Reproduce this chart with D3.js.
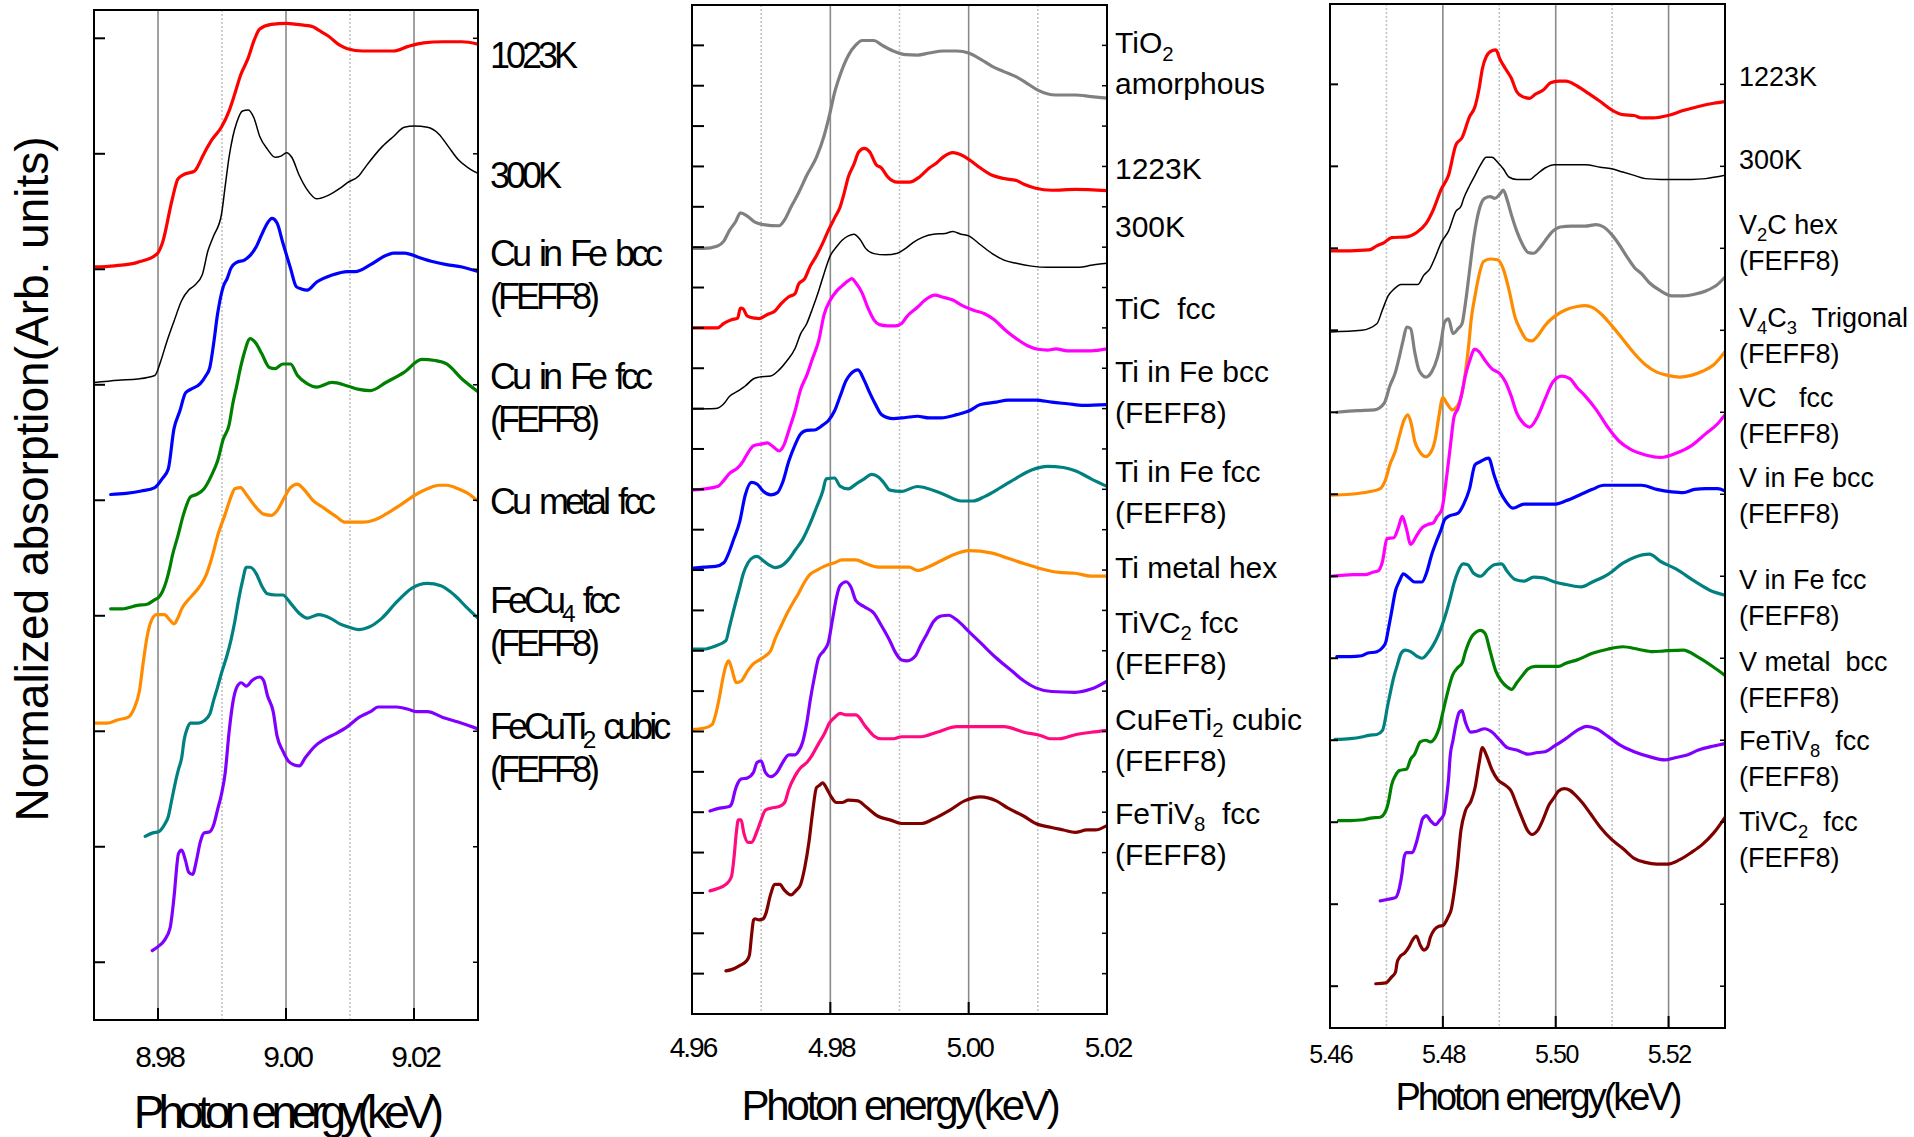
<!DOCTYPE html>
<html>
<head>
<meta charset="utf-8">
<script src="https://cdn.jsdelivr.net/npm/d3@7"></script>
<style>
  body { margin: 0; background: #fff; }
  text { font-family: "Liberation Sans", Arial, sans-serif; fill: #000; white-space: pre; }
</style>
</head>
<body>
<svg id="chart" width="1914" height="1137"></svg>
<script>
// ---- Cu K-edge (keV, arb. units) ----
const cuRange = [8.97, 9.03]
const cuMajor = [8.98, 9.00, 9.02]
const cuMinor = [8.99, 9.01]
const cu1023K = [[8.9700,6.02],[8.9732,6.03],[8.9768,6.06],[8.9798,6.13],[8.9807,6.23],[8.9822,6.60],[8.9831,6.78],[8.9840,6.82],[8.9857,6.85],[8.9863,6.90],[8.9869,6.97],[8.9884,7.12],[8.9899,7.23],[8.9911,7.37],[8.9920,7.52],[8.9929,7.68],[8.9941,7.83],[8.9950,7.98],[8.9959,8.08],[8.9977,8.12],[9.0001,8.13],[9.0018,8.12],[9.0042,8.10],[9.0051,8.07],[9.0066,8.02],[9.0084,7.94],[9.0096,7.91],[9.0120,7.89],[9.0138,7.89],[9.0168,7.89],[9.0191,7.93],[9.0215,7.96],[9.0245,7.97],[9.0275,7.97],[9.0300,7.95]]
const cu300K = [[8.9700,5.02],[8.9738,5.04],[8.9768,5.05],[8.9795,5.08],[8.9804,5.20],[8.9813,5.36],[8.9825,5.55],[8.9837,5.73],[8.9848,5.82],[8.9857,5.86],[8.9869,5.95],[8.9878,6.16],[8.9887,6.29],[8.9899,6.47],[8.9905,6.72],[8.9911,6.97],[8.9917,7.15],[8.9923,7.27],[8.9932,7.37],[8.9941,7.38],[8.9950,7.31],[8.9959,7.15],[8.9971,7.04],[8.9983,6.97],[8.9992,6.98],[9.0001,7.01],[9.0009,6.97],[9.0021,6.81],[9.0033,6.69],[9.0048,6.61],[9.0066,6.64],[9.0084,6.70],[9.0096,6.75],[9.0114,6.81],[9.0126,6.90],[9.0150,7.06],[9.0168,7.15],[9.0185,7.23],[9.0200,7.24],[9.0221,7.23],[9.0239,7.17],[9.0254,7.06],[9.0269,6.95],[9.0287,6.87],[9.0300,6.83]]
const cuInFeBcc = [[8.9726,4.05],[8.9750,4.06],[8.9774,4.08],[8.9795,4.11],[8.9807,4.19],[8.9816,4.27],[8.9825,4.62],[8.9834,4.77],[8.9843,4.93],[8.9851,4.96],[8.9866,5.01],[8.9875,5.08],[8.9881,5.15],[8.9887,5.36],[8.9893,5.61],[8.9902,5.85],[8.9908,5.92],[8.9914,6.01],[8.9923,6.06],[8.9935,6.08],[8.9944,6.12],[8.9953,6.19],[8.9962,6.30],[8.9971,6.40],[8.9978,6.44],[8.9986,6.40],[8.9995,6.23],[9.0007,6.01],[9.0016,5.85],[9.0024,5.83],[9.0033,5.82],[9.0048,5.89],[9.0072,5.95],[9.0096,5.98],[9.0108,5.98],[9.0132,6.04],[9.0156,6.12],[9.0168,6.14],[9.0185,6.14],[9.0209,6.10],[9.0227,6.07],[9.0251,6.04],[9.0275,6.02],[9.0300,5.98]]
const cuInFeFcc = [[8.9726,3.06],[8.9744,3.06],[8.9768,3.09],[8.9783,3.10],[8.9795,3.14],[8.9801,3.16],[8.9807,3.21],[8.9813,3.30],[8.9819,3.43],[8.9822,3.51],[8.9831,3.69],[8.9840,3.88],[8.9851,4.03],[8.9860,4.05],[8.9872,4.10],[8.9884,4.22],[8.9893,4.34],[8.9902,4.53],[8.9911,4.65],[8.9917,4.84],[8.9923,4.99],[8.9929,5.15],[8.9935,5.28],[8.9944,5.40],[8.9953,5.36],[8.9962,5.27],[8.9974,5.15],[8.9983,5.14],[8.9995,5.18],[9.0007,5.18],[9.0018,5.08],[9.0033,5.01],[9.0048,4.98],[9.0072,5.02],[9.0096,4.99],[9.0114,4.96],[9.0132,4.95],[9.0156,5.02],[9.0185,5.11],[9.0212,5.22],[9.0233,5.21],[9.0251,5.18],[9.0275,5.05],[9.0300,4.94]]
const cuMetalFcc = [[8.9700,2.07],[8.9720,2.07],[8.9738,2.10],[8.9753,2.12],[8.9762,2.19],[8.9771,2.35],[8.9777,2.60],[8.9783,2.82],[8.9789,2.95],[8.9798,3.01],[8.9810,3.01],[8.9819,2.96],[8.9825,2.93],[8.9831,2.98],[8.9837,3.06],[8.9846,3.13],[8.9854,3.18],[8.9866,3.26],[8.9875,3.35],[8.9884,3.50],[8.9893,3.69],[8.9905,3.88],[8.9914,4.03],[8.9920,4.10],[8.9929,4.11],[8.9938,4.05],[8.9953,3.94],[8.9965,3.88],[8.9977,3.87],[8.9986,3.91],[8.9998,4.03],[9.0007,4.11],[9.0018,4.14],[9.0027,4.10],[9.0042,4.00],[9.0060,3.93],[9.0078,3.86],[9.0093,3.81],[9.0120,3.81],[9.0138,3.83],[9.0156,3.88],[9.0179,3.96],[9.0203,4.05],[9.0221,4.10],[9.0239,4.13],[9.0251,4.13],[9.0269,4.10],[9.0287,4.05],[9.0300,3.99]]
const feCu4Fcc = [[8.9780,1.09],[8.9792,1.12],[8.9801,1.13],[8.9810,1.19],[8.9816,1.26],[8.9822,1.42],[8.9828,1.58],[8.9832,1.67],[8.9837,1.77],[8.9841,1.93],[8.9846,2.03],[8.9851,2.07],[8.9863,2.07],[8.9872,2.09],[8.9881,2.15],[8.9887,2.27],[8.9893,2.38],[8.9899,2.50],[8.9908,2.66],[8.9914,2.79],[8.9920,2.95],[8.9926,3.14],[8.9932,3.30],[8.9938,3.42],[8.9944,3.42],[8.9953,3.37],[8.9962,3.26],[8.9971,3.19],[8.9983,3.18],[8.9995,3.18],[9.0007,3.11],[9.0021,3.02],[9.0033,2.98],[9.0051,3.01],[9.0069,2.98],[9.0084,2.93],[9.0099,2.90],[9.0114,2.88],[9.0129,2.90],[9.0150,2.98],[9.0173,3.12],[9.0197,3.24],[9.0221,3.28],[9.0242,3.26],[9.0263,3.18],[9.0281,3.08],[9.0300,2.98]]
const feCuTi2Cubic = [[8.9791,0.10],[8.9801,0.14],[8.9810,0.19],[8.9819,0.30],[8.9823,0.46],[8.9826,0.62],[8.9828,0.75],[8.9832,0.94],[8.9837,0.97],[8.9843,0.88],[8.9848,0.78],[8.9854,0.76],[8.9860,0.88],[8.9866,1.04],[8.9872,1.12],[8.9881,1.13],[8.9887,1.19],[8.9893,1.32],[8.9899,1.45],[8.9905,1.64],[8.9911,1.99],[8.9917,2.25],[8.9923,2.38],[8.9930,2.42],[8.9938,2.39],[8.9947,2.44],[8.9959,2.47],[8.9965,2.44],[8.9971,2.31],[8.9980,2.17],[8.9986,1.96],[8.9995,1.83],[9.0004,1.74],[9.0012,1.71],[9.0021,1.70],[9.0030,1.77],[9.0045,1.87],[9.0060,1.93],[9.0078,1.98],[9.0096,2.04],[9.0114,2.12],[9.0132,2.17],[9.0144,2.21],[9.0173,2.21],[9.0191,2.19],[9.0203,2.17],[9.0221,2.17],[9.0245,2.12],[9.0269,2.08],[9.0300,2.02]]
const cuLabels = [['1023K'], ['300K'], ['Cu in Fe bcc', '(FEFF8)'], ['Cu in Fe fcc', '(FEFF8)'], ['Cu metal fcc'], ['FeCu_4 fcc', '(FEFF8)'], ['FeCuTi_2 cubic', '(FEFF8)']]
const cuLabelY = [7.74, 6.70, 6.03, 4.96, 3.88, 3.02, 1.93]

// ---- Ti K-edge ----
const tiRange = [4.96, 5.02]
const tiMajor = [4.98, 5.00]
const tiMinor = [4.97, 4.99, 5.01]
const tiTickLabels = [4.96, 4.98, 5.00, 5.02]
const tiO2Amorphous = [[4.9600,18.97],[4.9617,18.97],[4.9637,19.03],[4.9646,19.15],[4.9654,19.41],[4.9663,19.63],[4.9670,19.85],[4.9680,19.77],[4.9691,19.62],[4.9703,19.56],[4.9726,19.53],[4.9734,19.68],[4.9743,19.99],[4.9754,20.34],[4.9766,20.78],[4.9780,21.23],[4.9791,21.76],[4.9799,22.29],[4.9806,22.82],[4.9814,23.26],[4.9826,23.75],[4.9837,24.01],[4.9846,24.12],[4.9863,24.12],[4.9874,24.01],[4.9891,23.86],[4.9909,23.77],[4.9926,23.76],[4.9943,23.81],[4.9963,23.86],[4.9983,23.86],[5.0000,23.81],[5.0017,23.66],[5.0034,23.48],[5.0051,23.35],[5.0069,23.22],[5.0086,23.04],[5.0100,22.89],[5.0126,22.77],[5.0154,22.77],[5.0177,22.73],[5.0200,22.69]]
const ti1223K = [[4.9600,17.00],[4.9637,17.00],[4.9646,17.11],[4.9657,17.20],[4.9666,17.24],[4.9670,17.49],[4.9674,17.47],[4.9680,17.29],[4.9691,17.24],[4.9697,17.23],[4.9709,17.33],[4.9720,17.42],[4.9729,17.60],[4.9740,17.77],[4.9749,17.85],[4.9754,18.08],[4.9763,18.22],[4.9771,18.53],[4.9780,18.79],[4.9789,19.10],[4.9797,19.41],[4.9806,19.72],[4.9814,19.99],[4.9820,20.34],[4.9826,20.74],[4.9834,21.05],[4.9841,21.36],[4.9849,21.45],[4.9857,21.36],[4.9866,21.05],[4.9874,20.96],[4.9883,20.74],[4.9897,20.61],[4.9914,20.61],[4.9929,20.74],[4.9943,20.96],[4.9954,21.09],[4.9963,21.23],[4.9977,21.34],[4.9991,21.27],[5.0003,21.14],[5.0017,20.96],[5.0034,20.78],[5.0051,20.70],[5.0069,20.65],[5.0080,20.56],[5.0097,20.46],[5.0120,20.41],[5.0154,20.43],[5.0200,20.40]]
const ti300K = [[4.9600,14.99],[4.9634,15.00],[4.9646,15.12],[4.9654,15.30],[4.9666,15.43],[4.9677,15.56],[4.9689,15.74],[4.9697,15.78],[4.9714,15.81],[4.9726,15.96],[4.9737,16.18],[4.9749,16.49],[4.9757,16.85],[4.9766,17.11],[4.9774,17.47],[4.9783,17.91],[4.9791,18.35],[4.9800,18.79],[4.9809,19.01],[4.9817,19.17],[4.9826,19.28],[4.9834,19.32],[4.9843,19.19],[4.9851,18.97],[4.9863,18.84],[4.9880,18.81],[4.9897,18.85],[4.9909,18.97],[4.9920,19.12],[4.9934,19.25],[4.9949,19.32],[4.9966,19.34],[4.9977,19.39],[4.9989,19.32],[5.0000,19.28],[5.0017,19.06],[5.0034,18.84],[5.0051,18.68],[5.0069,18.60],[5.0091,18.53],[5.0114,18.50],[5.0137,18.50],[5.0160,18.50],[5.0177,18.55],[5.0200,18.60]]
const tiCFcc = [[4.9600,12.98],[4.9637,13.07],[4.9646,13.22],[4.9654,13.39],[4.9666,13.53],[4.9674,13.70],[4.9680,13.88],[4.9689,14.08],[4.9700,14.12],[4.9709,14.15],[4.9717,14.06],[4.9726,13.95],[4.9733,14.10],[4.9740,14.46],[4.9749,14.94],[4.9757,15.47],[4.9766,15.83],[4.9774,16.23],[4.9783,16.67],[4.9791,17.33],[4.9800,17.69],[4.9809,17.91],[4.9817,18.04],[4.9826,18.17],[4.9831,18.22],[4.9837,18.11],[4.9846,17.86],[4.9854,17.51],[4.9863,17.20],[4.9871,17.08],[4.9883,17.05],[4.9894,17.05],[4.9903,17.11],[4.9911,17.29],[4.9926,17.51],[4.9937,17.69],[4.9951,17.81],[4.9963,17.76],[4.9977,17.69],[4.9991,17.55],[5.0006,17.44],[5.0023,17.35],[5.0037,17.20],[5.0054,16.93],[5.0071,16.71],[5.0086,16.55],[5.0100,16.47],[5.0114,16.45],[5.0126,16.48],[5.0143,16.43],[5.0177,16.43],[5.0200,16.48]]
const tiInFeBcc = [[4.9600,11.04],[4.9617,11.07],[4.9634,11.09],[4.9646,11.18],[4.9654,11.46],[4.9660,11.75],[4.9669,12.20],[4.9677,12.86],[4.9686,13.17],[4.9694,13.13],[4.9703,12.95],[4.9714,12.86],[4.9723,12.91],[4.9731,13.17],[4.9740,13.70],[4.9749,14.10],[4.9757,14.37],[4.9766,14.46],[4.9777,14.47],[4.9789,14.59],[4.9797,14.70],[4.9806,14.94],[4.9814,15.30],[4.9823,15.70],[4.9829,15.85],[4.9840,15.96],[4.9849,15.70],[4.9857,15.39],[4.9866,15.08],[4.9874,14.85],[4.9891,14.75],[4.9909,14.78],[4.9926,14.81],[4.9943,14.77],[4.9960,14.77],[4.9983,14.85],[5.0000,14.94],[5.0017,15.10],[5.0040,15.16],[5.0057,15.21],[5.0097,15.21],[5.0120,15.16],[5.0143,15.12],[5.0166,15.08],[5.0200,15.10]]
const tiInFeFcc = [[4.9600,9.04],[4.9617,9.04],[4.9634,9.12],[4.9649,9.25],[4.9654,9.58],[4.9663,10.19],[4.9669,10.57],[4.9674,10.90],[4.9681,11.18],[4.9689,11.32],[4.9694,11.34],[4.9703,11.23],[4.9711,11.13],[4.9720,11.06],[4.9729,11.10],[4.9740,11.27],[4.9749,11.49],[4.9760,11.76],[4.9771,12.16],[4.9780,12.55],[4.9789,12.95],[4.9794,13.26],[4.9806,13.28],[4.9814,13.08],[4.9826,13.01],[4.9837,13.13],[4.9849,13.26],[4.9860,13.37],[4.9869,13.31],[4.9877,13.17],[4.9886,12.98],[4.9903,12.95],[4.9926,13.07],[4.9943,13.01],[4.9966,12.86],[4.9989,12.71],[5.0006,12.71],[5.0023,12.82],[5.0046,13.04],[5.0069,13.28],[5.0091,13.48],[5.0114,13.57],[5.0137,13.54],[5.0154,13.46],[5.0177,13.26],[5.0200,13.07]]
const tiMetalHex = [[4.9600,7.05],[4.9617,7.08],[4.9629,7.17],[4.9634,7.41],[4.9640,7.88],[4.9645,8.35],[4.9649,8.63],[4.9653,8.75],[4.9657,8.58],[4.9664,8.21],[4.9671,8.25],[4.9680,8.49],[4.9689,8.68],[4.9697,8.77],[4.9706,8.87],[4.9714,9.01],[4.9720,9.29],[4.9729,9.62],[4.9737,9.91],[4.9746,10.19],[4.9754,10.42],[4.9763,10.71],[4.9771,10.90],[4.9780,10.99],[4.9791,11.09],[4.9806,11.18],[4.9817,11.25],[4.9837,11.25],[4.9851,11.16],[4.9869,11.07],[4.9891,11.07],[4.9914,11.07],[4.9926,10.99],[4.9943,11.09],[4.9960,11.23],[4.9977,11.37],[5.0000,11.48],[5.0034,11.42],[5.0057,11.29],[5.0080,11.16],[5.0103,11.04],[5.0131,10.94],[5.0154,10.92],[5.0177,10.85],[5.0200,10.85]]
const tiVC2FccTi = [[4.9626,5.03],[4.9640,5.10],[4.9654,5.14],[4.9658,5.24],[4.9662,5.52],[4.9666,5.71],[4.9671,5.82],[4.9680,5.85],[4.9689,5.99],[4.9694,6.23],[4.9700,6.27],[4.9706,5.99],[4.9714,5.88],[4.9723,5.99],[4.9731,6.23],[4.9740,6.42],[4.9749,6.42],[4.9754,6.51],[4.9760,6.74],[4.9766,7.22],[4.9771,7.78],[4.9777,8.35],[4.9783,8.82],[4.9791,9.01],[4.9797,9.20],[4.9803,9.76],[4.9809,10.33],[4.9814,10.61],[4.9823,10.71],[4.9830,10.57],[4.9837,10.24],[4.9849,10.09],[4.9863,9.93],[4.9874,9.62],[4.9886,9.25],[4.9894,8.96],[4.9903,8.77],[4.9911,8.75],[4.9923,8.87],[4.9931,9.15],[4.9940,9.43],[4.9949,9.72],[4.9960,9.86],[4.9971,9.88],[4.9983,9.76],[5.0000,9.48],[5.0017,9.20],[5.0040,8.82],[5.0063,8.49],[5.0080,8.25],[5.0097,8.08],[5.0120,7.99],[5.0154,7.97],[5.0177,8.05],[5.0200,8.25]]
const cuFeTi2Cubic = [[4.9626,3.05],[4.9637,3.11],[4.9649,3.21],[4.9657,3.40],[4.9661,3.92],[4.9664,4.48],[4.9667,4.81],[4.9671,4.81],[4.9675,4.48],[4.9681,4.25],[4.9686,4.25],[4.9694,4.53],[4.9700,4.81],[4.9706,5.05],[4.9714,5.10],[4.9726,5.14],[4.9734,5.24],[4.9740,5.57],[4.9749,5.90],[4.9757,6.10],[4.9766,6.23],[4.9774,6.42],[4.9783,6.70],[4.9791,6.93],[4.9799,7.22],[4.9807,7.36],[4.9814,7.45],[4.9823,7.41],[4.9837,7.41],[4.9851,7.12],[4.9863,6.89],[4.9874,6.82],[4.9891,6.82],[4.9903,6.87],[4.9931,6.87],[4.9954,6.98],[4.9983,7.12],[5.0017,7.12],[5.0051,7.12],[5.0080,6.98],[5.0106,6.89],[5.0117,6.82],[5.0131,6.82],[5.0154,6.92],[5.0177,6.98],[5.0200,7.03]]
const feTiV8FccTi = [[4.9649,1.07],[4.9657,1.10],[4.9669,1.20],[4.9679,1.32],[4.9683,1.46],[4.9686,1.93],[4.9689,2.33],[4.9691,2.36],[4.9697,2.33],[4.9703,2.36],[4.9707,2.50],[4.9713,2.92],[4.9720,3.21],[4.9727,3.21],[4.9733,3.08],[4.9743,2.95],[4.9751,3.07],[4.9757,3.21],[4.9763,3.63],[4.9769,4.25],[4.9774,4.95],[4.9780,5.61],[4.9784,5.66],[4.9789,5.73],[4.9794,5.61],[4.9800,5.42],[4.9809,5.24],[4.9817,5.24],[4.9826,5.30],[4.9840,5.28],[4.9851,5.14],[4.9869,4.90],[4.9886,4.81],[4.9903,4.72],[4.9931,4.72],[4.9949,4.83],[4.9971,5.03],[4.9994,5.28],[5.0017,5.38],[5.0040,5.28],[5.0057,5.10],[5.0080,4.90],[5.0097,4.72],[5.0120,4.62],[5.0137,4.56],[5.0154,4.50],[5.0171,4.56],[5.0183,4.56],[5.0200,4.67]]
const tiLabels = [['TiO_2', 'amorphous'], ['1223K'], ['300K'], ['TiC  fcc'], ['Ti in Fe bcc', '(FEFF8)'], ['Ti in Fe fcc', '(FEFF8)'], ['Ti metal hex'], ['TiVC_2 fcc', '(FEFF8)'], ['CuFeTi_2 cubic', '(FEFF8)'], ['FeTiV_8  fcc', '(FEFF8)']]
const tiLabelY = [23.80, 20.70, 19.24, 17.21, 15.66, 13.18, 10.80, 9.44, 7.04, 4.72]

// ---- V K-edge ----
const vRange = [5.46, 5.53]
const vMajor = [5.48, 5.50, 5.52]
const vMinor = [5.47, 5.49, 5.51]
const vTickLabels = [5.46, 5.48, 5.50, 5.52]
const v1223K = [[5.4600,8.97],[5.4636,8.97],[5.4669,8.98],[5.4683,9.03],[5.4696,9.07],[5.4709,9.13],[5.4736,9.14],[5.4753,9.19],[5.4770,9.30],[5.4783,9.47],[5.4797,9.72],[5.4810,9.89],[5.4823,10.26],[5.4834,10.35],[5.4847,10.60],[5.4857,10.73],[5.4864,10.94],[5.4870,11.19],[5.4877,11.34],[5.4887,11.41],[5.4894,11.42],[5.4901,11.31],[5.4911,11.19],[5.4921,11.08],[5.4931,10.91],[5.4941,10.85],[5.4954,10.83],[5.4964,10.88],[5.4978,10.93],[5.4991,11.02],[5.5005,11.04],[5.5018,11.04],[5.5038,10.98],[5.5058,10.89],[5.5079,10.79],[5.5099,10.69],[5.5119,10.63],[5.5139,10.62],[5.5152,10.59],[5.5172,10.59],[5.5199,10.62],[5.5226,10.68],[5.5253,10.73],[5.5280,10.77],[5.5300,10.79]]
const v300K = [[5.4600,7.98],[5.4656,8.00],[5.4683,8.08],[5.4693,8.25],[5.4703,8.42],[5.4713,8.50],[5.4726,8.56],[5.4756,8.56],[5.4766,8.67],[5.4777,8.75],[5.4787,8.90],[5.4797,9.07],[5.4810,9.21],[5.4823,9.45],[5.4832,9.51],[5.4837,9.61],[5.4847,9.76],[5.4857,9.89],[5.4867,10.02],[5.4877,10.11],[5.4887,10.11],[5.4897,10.05],[5.4907,9.97],[5.4917,9.87],[5.4931,9.84],[5.4954,9.84],[5.4964,9.89],[5.4981,9.98],[5.4998,10.02],[5.5025,10.02],[5.5052,10.02],[5.5079,9.99],[5.5099,9.97],[5.5119,9.93],[5.5139,9.89],[5.5159,9.85],[5.5186,9.84],[5.5213,9.84],[5.5240,9.84],[5.5266,9.85],[5.5300,9.89]]
const v2CHex = [[5.4612,7.00],[5.4649,7.02],[5.4679,7.03],[5.4696,7.11],[5.4706,7.32],[5.4716,7.49],[5.4723,7.68],[5.4730,7.89],[5.4736,8.04],[5.4743,8.02],[5.4750,7.74],[5.4758,7.51],[5.4770,7.43],[5.4780,7.49],[5.4790,7.66],[5.4797,7.87],[5.4803,8.10],[5.4810,8.14],[5.4818,7.96],[5.4827,8.02],[5.4834,8.08],[5.4840,8.33],[5.4847,8.71],[5.4854,9.09],[5.4860,9.34],[5.4867,9.53],[5.4874,9.61],[5.4884,9.63],[5.4892,9.61],[5.4901,9.66],[5.4907,9.71],[5.4914,9.59],[5.4921,9.42],[5.4931,9.21],[5.4941,9.05],[5.4951,8.95],[5.4961,8.94],[5.4971,9.00],[5.4981,9.09],[5.4995,9.21],[5.5008,9.26],[5.5028,9.27],[5.5052,9.27],[5.5072,9.29],[5.5085,9.26],[5.5099,9.17],[5.5112,9.05],[5.5126,8.90],[5.5139,8.77],[5.5152,8.69],[5.5166,8.58],[5.5186,8.48],[5.5206,8.42],[5.5226,8.42],[5.5246,8.44],[5.5266,8.48],[5.5287,8.56],[5.5300,8.65]]
const v4C3Trigonal = [[5.4600,5.99],[5.4636,6.00],[5.4669,6.03],[5.4689,6.07],[5.4699,6.19],[5.4706,6.36],[5.4716,6.53],[5.4724,6.74],[5.4731,6.90],[5.4738,6.97],[5.4744,6.86],[5.4750,6.65],[5.4758,6.53],[5.4770,6.46],[5.4780,6.53],[5.4787,6.69],[5.4793,6.95],[5.4800,7.18],[5.4807,7.11],[5.4817,7.03],[5.4827,7.09],[5.4834,7.24],[5.4840,7.49],[5.4846,7.83],[5.4850,8.12],[5.4857,8.42],[5.4864,8.67],[5.4872,8.84],[5.4884,8.87],[5.4897,8.86],[5.4907,8.75],[5.4917,8.50],[5.4928,8.16],[5.4938,8.00],[5.4948,7.89],[5.4958,7.87],[5.4968,7.93],[5.4981,8.06],[5.4998,8.17],[5.5018,8.25],[5.5038,8.29],[5.5052,8.30],[5.5065,8.28],[5.5082,8.19],[5.5099,8.06],[5.5119,7.89],[5.5139,7.72],[5.5159,7.58],[5.5179,7.49],[5.5199,7.45],[5.5219,7.43],[5.5240,7.45],[5.5260,7.50],[5.5280,7.58],[5.5300,7.74]]
const vCFcc = [[5.4602,5.00],[5.4642,5.02],[5.4662,5.02],[5.4676,5.05],[5.4686,5.07],[5.4693,5.18],[5.4701,5.46],[5.4713,5.47],[5.4721,5.59],[5.4728,5.73],[5.4735,5.59],[5.4743,5.39],[5.4753,5.49],[5.4763,5.59],[5.4773,5.63],[5.4783,5.65],[5.4790,5.73],[5.4798,5.81],[5.4807,6.23],[5.4813,6.57],[5.4820,6.95],[5.4827,7.05],[5.4834,7.24],[5.4840,7.45],[5.4849,7.66],[5.4856,7.77],[5.4864,7.74],[5.4874,7.64],[5.4887,7.53],[5.4901,7.47],[5.4911,7.37],[5.4921,7.20],[5.4931,6.99],[5.4941,6.88],[5.4954,6.82],[5.4968,6.95],[5.4981,7.16],[5.4995,7.37],[5.5011,7.44],[5.5025,7.41],[5.5038,7.30],[5.5052,7.20],[5.5072,7.03],[5.5092,6.82],[5.5112,6.65],[5.5132,6.55],[5.5159,6.48],[5.5186,6.45],[5.5213,6.50],[5.5240,6.59],[5.5266,6.74],[5.5287,6.86],[5.5300,6.97]]
const vInFeBcc = [[5.4612,4.02],[5.4636,4.02],[5.4656,4.03],[5.4666,4.06],[5.4683,4.08],[5.4693,4.13],[5.4699,4.20],[5.4703,4.34],[5.4709,4.56],[5.4716,4.82],[5.4723,4.94],[5.4730,5.03],[5.4740,4.98],[5.4750,4.93],[5.4763,4.93],[5.4771,5.04],[5.4780,5.26],[5.4790,5.45],[5.4797,5.57],[5.4803,5.69],[5.4810,5.73],[5.4827,5.77],[5.4837,5.88],[5.4847,6.06],[5.4857,6.36],[5.4867,6.40],[5.4881,6.44],[5.4891,6.23],[5.4901,6.04],[5.4911,5.92],[5.4924,5.83],[5.4944,5.88],[5.4971,5.88],[5.4998,5.88],[5.5018,5.92],[5.5045,6.00],[5.5065,6.06],[5.5085,6.11],[5.5119,6.11],[5.5152,6.11],[5.5179,6.06],[5.5206,6.03],[5.5226,6.02],[5.5246,6.06],[5.5266,6.07],[5.5287,6.07],[5.5300,6.04]]
const vInFeFcc = [[5.4609,3.01],[5.4636,3.02],[5.4656,3.04],[5.4669,3.06],[5.4683,3.07],[5.4693,3.12],[5.4697,3.22],[5.4701,3.38],[5.4706,3.55],[5.4713,3.77],[5.4719,3.91],[5.4726,4.06],[5.4733,4.10],[5.4743,4.08],[5.4753,4.03],[5.4763,4.00],[5.4773,4.06],[5.4783,4.16],[5.4793,4.30],[5.4803,4.49],[5.4813,4.73],[5.4820,4.92],[5.4827,5.06],[5.4836,5.15],[5.4844,5.14],[5.4854,5.04],[5.4867,5.00],[5.4881,5.09],[5.4891,5.14],[5.4904,5.15],[5.4914,5.06],[5.4928,4.96],[5.4944,4.94],[5.4961,4.99],[5.4978,4.98],[5.4998,4.93],[5.5018,4.90],[5.5045,4.87],[5.5065,4.93],[5.5092,5.02],[5.5119,5.16],[5.5139,5.23],[5.5166,5.27],[5.5186,5.18],[5.5213,5.09],[5.5246,4.94],[5.5273,4.83],[5.5300,4.77]]
const vMetalBcc = [[5.4615,2.02],[5.4636,2.02],[5.4659,2.03],[5.4672,2.05],[5.4689,2.06],[5.4699,2.14],[5.4704,2.26],[5.4709,2.45],[5.4716,2.57],[5.4723,2.63],[5.4736,2.65],[5.4743,2.77],[5.4750,2.83],[5.4760,2.98],[5.4770,3.00],[5.4778,2.98],[5.4787,3.04],[5.4793,3.14],[5.4800,3.34],[5.4809,3.60],[5.4817,3.79],[5.4827,3.89],[5.4834,3.94],[5.4840,4.08],[5.4850,4.25],[5.4859,4.32],[5.4867,4.34],[5.4875,4.30],[5.4884,4.08],[5.4894,3.84],[5.4904,3.72],[5.4914,3.65],[5.4922,3.62],[5.4931,3.70],[5.4941,3.79],[5.4951,3.87],[5.4964,3.90],[5.4985,3.90],[5.5005,3.90],[5.5018,3.94],[5.5038,3.98],[5.5065,4.06],[5.5092,4.11],[5.5119,4.14],[5.5146,4.11],[5.5172,4.08],[5.5193,4.09],[5.5226,4.10],[5.5253,4.01],[5.5280,3.89],[5.5300,3.79]]
const feTiV8FccV = [[5.4689,1.04],[5.4703,1.06],[5.4716,1.08],[5.4723,1.20],[5.4728,1.39],[5.4731,1.56],[5.4735,1.63],[5.4746,1.63],[5.4753,1.75],[5.4760,1.94],[5.4764,2.04],[5.4771,2.08],[5.4778,2.02],[5.4787,1.97],[5.4795,2.03],[5.4802,2.10],[5.4807,2.33],[5.4810,2.52],[5.4813,2.81],[5.4818,3.00],[5.4823,3.19],[5.4829,3.34],[5.4834,3.36],[5.4840,3.22],[5.4849,3.10],[5.4860,3.11],[5.4874,3.14],[5.4887,3.10],[5.4901,3.00],[5.4914,2.91],[5.4931,2.88],[5.4951,2.83],[5.4968,2.85],[5.4981,2.86],[5.4998,2.93],[5.5018,3.02],[5.5038,3.12],[5.5055,3.17],[5.5072,3.14],[5.5092,3.05],[5.5112,2.95],[5.5139,2.86],[5.5166,2.80],[5.5193,2.76],[5.5213,2.79],[5.5233,2.82],[5.5253,2.88],[5.5280,2.93],[5.5300,2.96]]
const tiVC2FccV = [[5.4681,0.03],[5.4699,0.04],[5.4709,0.11],[5.4716,0.17],[5.4719,0.29],[5.4723,0.35],[5.4733,0.41],[5.4740,0.48],[5.4746,0.56],[5.4753,0.61],[5.4760,0.50],[5.4766,0.44],[5.4773,0.48],[5.4778,0.60],[5.4785,0.69],[5.4793,0.73],[5.4800,0.74],[5.4809,0.84],[5.4815,0.94],[5.4820,1.15],[5.4825,1.42],[5.4832,1.90],[5.4840,2.14],[5.4850,2.26],[5.4857,2.42],[5.4864,2.71],[5.4870,2.91],[5.4877,2.82],[5.4887,2.64],[5.4897,2.52],[5.4911,2.45],[5.4921,2.38],[5.4931,2.21],[5.4941,2.04],[5.4950,1.90],[5.4958,1.85],[5.4968,1.90],[5.4978,2.04],[5.4988,2.21],[5.4997,2.30],[5.5005,2.38],[5.5015,2.41],[5.5025,2.39],[5.5035,2.33],[5.5048,2.23],[5.5062,2.10],[5.5079,1.94],[5.5099,1.79],[5.5119,1.68],[5.5139,1.56],[5.5159,1.51],[5.5179,1.49],[5.5199,1.49],[5.5219,1.54],[5.5240,1.63],[5.5260,1.73],[5.5280,1.87],[5.5300,2.06]]
const vLabels = [['1223K'], ['300K'], ['V_2C hex', '(FEFF8)'], ['V_4C_3  Trigonal', '(FEFF8)'], ['VC   fcc', '(FEFF8)'], ['V in Fe bcc', '(FEFF8)'], ['V in Fe fcc', '(FEFF8)'], ['V metal  bcc', '(FEFF8)'], ['FeTiV_8  fcc', '(FEFF8)'], ['TiVC_2  fcc', '(FEFF8)']]
const vLabelY = [10.98, 9.97, 9.17, 8.04, 7.07, 6.09, 4.84, 3.84, 2.88, 1.89]

const C = {
  red: '#ff0000', black: '#000000', blue: '#0000ff', green: '#008000', orange: '#ff8c00',
  teal: '#008080', violet: '#8000ff', gray: '#808080', magenta: '#ff00ff', pink: '#ff0a80', maroon: '#800000'
}
const thick = 3.2
const thin = 1.5

const panels = [
  {
    box: { l: 94, r: 478, t: 10, b: 1020 }, xDomain: cuRange, yDomain: [-0.5, 8.245],
    major: cuMajor, minor: cuMinor, tickLabels: cuMajor, yTicks: d3.range(0, 9), tickLen: 11,
    series: [
      { d: cu1023K, c: C.red, w: thick }, { d: cu300K, c: C.black, w: thin },
      { d: cuInFeBcc, c: C.blue, w: thick }, { d: cuInFeFcc, c: C.green, w: thick },
      { d: cuMetalFcc, c: C.orange, w: thick }, { d: feCu4Fcc, c: C.teal, w: thick },
      { d: feCuTi2Cubic, c: C.violet, w: thick }
    ],
    labels: cuLabels, labelY: cuLabelY, labelDx: 12, lineGap: 43, labelSize: 36, labelLs: -4, labelWs: 5,
    tickSize: 30, tickLs: -2.6, tickBase: 1067, titleSize: 46, titleLs: -5.8, titleBase: 1128, titleDx: 0
  },
  {
    box: { l: 692, r: 1107, t: 5, b: 1014 }, xDomain: tiRange, yDomain: [0, 25],
    major: tiMajor, minor: tiMinor, tickLabels: tiTickLabels, yTicks: d3.range(1, 25), tickLen: 12,
    series: [
      { d: tiO2Amorphous, c: C.gray, w: thick }, { d: ti1223K, c: C.red, w: thick },
      { d: ti300K, c: C.black, w: thin }, { d: tiCFcc, c: C.magenta, w: thick },
      { d: tiInFeBcc, c: C.blue, w: thick }, { d: tiInFeFcc, c: C.teal, w: thick },
      { d: tiMetalHex, c: C.orange, w: thick }, { d: tiVC2FccTi, c: C.violet, w: thick },
      { d: cuFeTi2Cubic, c: C.pink, w: thick }, { d: feTiV8FccTi, c: C.maroon, w: thick }
    ],
    labels: tiLabels, labelY: tiLabelY, labelDx: 8, lineGap: 41, labelSize: 30, labelLs: 0, labelWs: 0,
    tickSize: 28, tickLs: -2, tickBase: 1057, titleSize: 42, titleLs: -3.2, titleBase: 1120, titleDx: 0
  },
  {
    box: { l: 1330, r: 1725, t: 4, b: 1028 }, xDomain: vRange, yDomain: [-0.51, 11.98],
    major: vMajor, minor: vMinor, tickLabels: vTickLabels, yTicks: d3.range(0, 12), tickLen: 8,
    series: [
      { d: v1223K, c: C.red, w: thick }, { d: v300K, c: C.black, w: thin },
      { d: v2CHex, c: C.gray, w: thick }, { d: v4C3Trigonal, c: C.orange, w: thick },
      { d: vCFcc, c: C.magenta, w: thick }, { d: vInFeBcc, c: C.blue, w: thick },
      { d: vInFeFcc, c: C.teal, w: thick }, { d: vMetalBcc, c: C.green, w: thick },
      { d: feTiV8FccV, c: C.violet, w: thick }, { d: tiVC2FccV, c: C.maroon, w: thick }
    ],
    labels: vLabels, labelY: vLabelY, labelDx: 14, lineGap: 36, labelSize: 27, labelLs: 0, labelWs: 0,
    tickSize: 25, tickLs: -1.4, tickBase: 1063, titleSize: 38, titleLs: -3, titleBase: 1110, titleDx: 10
  }
]

const svg = d3.select('#chart')
svg.append('rect').attr('width', 1914).attr('height', 1137).attr('fill', '#fff')

// chemical formula subscripts: "FeCu_4" -> FeCu + lowered 4
const richText = (el, str, size) => {
  const shift = size * 0.24
  let low = false
  str.split(/_(\d)/).forEach((p, i) => {
    if (!p) return
    const t = el.append('tspan').text(p)
    if (i % 2) {
      t.attr('font-size', size * 0.68).attr('dy', low ? 0 : shift)
      low = true
    } else if (low) {
      t.attr('dy', -shift)
      low = false
    }
  })
}

const fmt = d3.format('.2f')

panels.forEach((p, k) => {
  const { l, r, t, b } = p.box
  const x = d3.scaleLinear().domain(p.xDomain).range([l, r])
  const y = d3.scaleLinear().domain(p.yDomain).range([b, t])
  const g = svg.append('g')

  g.append('clipPath').attr('id', `clip${k}`)
    .append('rect').attr('x', l).attr('y', t).attr('width', r - l).attr('height', b - t)

  g.selectAll('.minor').data(p.minor).enter().append('line')
    .attr('x1', d => x(d)).attr('x2', d => x(d)).attr('y1', t).attr('y2', b)
    .attr('stroke', '#c4c4c4').attr('stroke-width', 1.6).attr('stroke-dasharray', '2,2')
  g.selectAll('.major').data(p.major).enter().append('line')
    .attr('x1', d => x(d)).attr('x2', d => x(d)).attr('y1', t).attr('y2', b)
    .attr('stroke', '#8a8a8a').attr('stroke-width', 1.6)

  const line = d3.line().x(d => x(d[0])).y(d => y(d[1])).curve(d3.curveMonotoneX)
  g.append('g').attr('clip-path', `url(#clip${k})`)
    .selectAll('path').data(p.series).enter().append('path')
    .attr('d', s => line(s.d)).attr('fill', 'none')
    .attr('stroke', s => s.c).attr('stroke-width', s => s.w)
    .attr('stroke-linejoin', 'round').attr('stroke-linecap', 'round')

  // frame and ticks
  g.append('rect').attr('x', l).attr('y', t).attr('width', r - l).attr('height', b - t)
    .attr('fill', 'none').attr('stroke', '#000').attr('stroke-width', 2)
  g.selectAll('.yl').data(p.yTicks).enter().append('line')
    .attr('x1', l).attr('x2', l + p.tickLen).attr('y1', d => y(d)).attr('y2', d => y(d))
    .attr('stroke', '#000').attr('stroke-width', 2)
  g.selectAll('.yr').data(p.yTicks).enter().append('line')
    .attr('x1', r).attr('x2', r - 5).attr('y1', d => y(d)).attr('y2', d => y(d))
    .attr('stroke', '#000').attr('stroke-width', 1.5)
  g.selectAll('.xt').data(p.tickLabels).enter().append('line')
    .attr('x1', d => x(d)).attr('x2', d => x(d)).attr('y1', b).attr('y2', b - 12)
    .attr('stroke', '#000').attr('stroke-width', 2)

  g.selectAll('.xl').data(p.tickLabels).enter().append('text')
    .attr('x', d => x(d) - p.tickLs / 2).attr('y', p.tickBase)
    .attr('text-anchor', 'middle').attr('font-size', p.tickSize)
    .attr('letter-spacing', p.tickLs)
    .text(d => fmt(d))

  g.append('text')
    .attr('x', (l + r) / 2 + p.titleDx).attr('y', p.titleBase)
    .attr('text-anchor', 'middle').attr('font-size', p.titleSize)
    .attr('letter-spacing', p.titleLs)
    .text('Photon energy(keV)')

  // spectrum names to the right of the frame
  p.labels.forEach((lines, i) => {
    lines.forEach((str, j) => {
      const txt = g.append('text')
        .attr('x', r + p.labelDx).attr('y', y(p.labelY[i]) + j * p.lineGap)
        .attr('font-size', p.labelSize).attr('letter-spacing', p.labelLs)
        .attr('word-spacing', p.labelWs)
        .attr('xml:space', 'preserve')
      richText(txt, str, p.labelSize)
    })
  })
})

svg.append('text')
  .attr('transform', 'translate(48,479) rotate(-90)')
  .attr('text-anchor', 'middle').attr('font-size', 46)
  .text('Normalized absorption(Arb. units)')
</script>
</body>
</html>
